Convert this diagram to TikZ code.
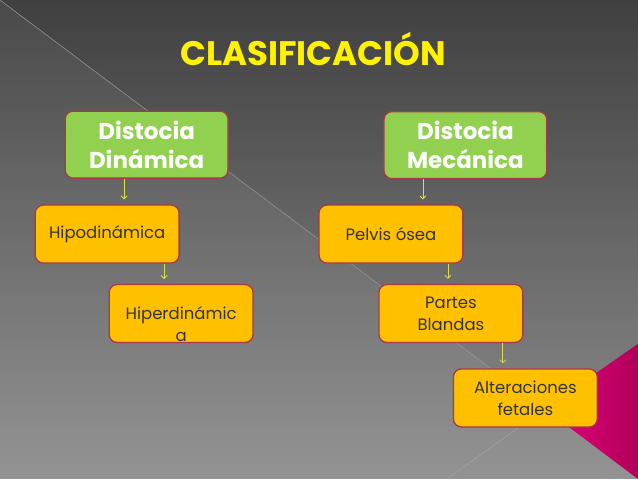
\documentclass[tikz,border=0pt]{standalone}
\usepackage{fontspec}
\setmainfont{Poppins}
\usetikzlibrary{arrows.meta, positioning}
\definecolor{verde}{HTML}{92D050}
\definecolor{naranja}{HTML}{FFC000}
\definecolor{borde}{HTML}{A8384A}
\definecolor{flecha}{HTML}{DCDC50}
\definecolor{rosa}{HTML}{E6007E}
\definecolor{rosaosc}{HTML}{B0005A}
\definecolor{fondoA}{HTML}{404040}
\definecolor{fondoB}{HTML}{8E8E8E}
\tikzset{
  caja/.style={draw=borde, line width=1.3pt, rounded corners=8pt, minimum width=163pt, minimum height=67pt,
    fill=verde, text=white, font=\fontsize{23}{29}\selectfont\bfseries, align=center},
  sub/.style={draw=borde, line width=1.3pt, rounded corners=8pt, minimum width=144pt, minimum height=58pt,
    fill=naranja, text=black!80, font=\fontsize{16.5}{22}\selectfont, align=center},
  flechita/.style={draw=flecha, line width=0.8pt, shorten >=5pt, -{Straight Barb[length=3pt,width=6pt]}}
}
\begin{document}
\begin{tikzpicture}[x=1pt, y=-1pt]
  % 背景
  \shade[top color=fondoA, bottom color=fondoB] (0,0) rectangle (638,479);
  \fill[white, opacity=0.05] (0,0) -- (638,479) -- (0,479) -- cycle;
  \draw[gray!80, line width=0.5pt] (0,0) -- (638,479);
  \draw[gray!70, line width=0.5pt] (447,479) -- (545,409);
  \shade[left color=rosa, right color=rosaosc] (545,409) -- (638,344) -- (638,479) -- cycle;
  % 标题
  \node[text=yellow, font=\fontsize{34}{40}\selectfont\bfseries] (titulo) at (313,49) {CLASIFICACIÓN};
  % 方框
  \node[caja] (dinamica) at (146.5,144.5) {Distocia\\Dinámica};
  \node[caja] (mecanica) at (465.5,145) {Distocia\\Mecánica};
  \node[sub] (hipo) at (107,234) {Hipodinámica};
  \node[sub] (hiper) at (181,313.5) {};
  \node[sub, draw=none, fill=none] (hipertxt) at ([yshift=-10.5pt]hiper.center) {Hiperdinámic\\a};
  \node[sub] (pelvis) at (391,234) {Pelvis ósea};
  \node[sub] (partes) at (451,313.5) {Partes\\Blandas};
  \node[sub] (alter) at (525.5,398) {Alteraciones\\fetales};
  % 箭头
  \foreach \a/\b/\dx in {dinamica/hipo/-22.5, hipo/hiper/57, mecanica/pelvis/-42.5, pelvis/partes/57, partes/alter/52}
    \draw[flechita] ([xshift=\dx pt]\a.south) -- ([xshift=\dx pt]\a.south |- \b.north);
\end{tikzpicture}
\end{document}
